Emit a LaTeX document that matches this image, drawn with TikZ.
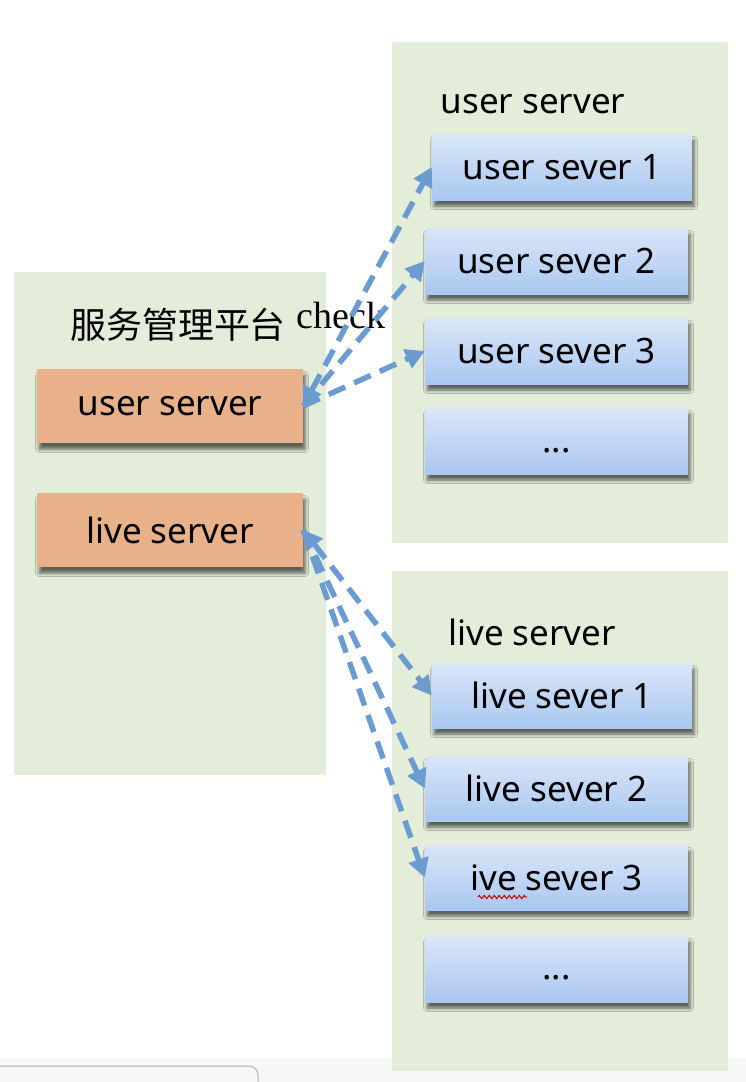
\documentclass[tikz,border=0pt]{standalone}
\usepackage{fontspec}
\setmainfont{Noto Sans}
\newfontfamily\cjkfont{Noto Sans CJK SC}
\newfontfamily\checkfont{Liberation Serif}
\usetikzlibrary{shadows.blur,arrows.meta,decorations.pathmorphing}
\definecolor{panelgreen}{HTML}{E3EDDA}
\definecolor{orangebox}{HTML}{E9B189}
\definecolor{bluetop}{HTML}{DAE6F8}
\definecolor{bluebot}{HTML}{A9C7F1}
\definecolor{connblue}{HTML}{6A9BD1}
\tikzset{
  panel/.style={fill=panelgreen, draw=none},
  txt/.style={font=\fontsize{35}{40}\selectfont, text=black},
  orangenode/.style={txt, fill=orangebox, draw=none, minimum width=266, minimum height=74,
    blur shadow={shadow xshift=2pt, shadow yshift=-6pt, shadow blur radius=3.5pt, shadow opacity=60}},
  bluenode/.style={txt, top color=bluetop, bottom color=bluebot, draw=none, minimum height=66,
    blur shadow={shadow xshift=2pt, shadow yshift=-6pt, shadow blur radius=3.5pt, shadow opacity=60}},
  conn/.style={draw=connblue, line width=5.5pt, dash pattern=on 18pt off 10pt,
    arrows={-Triangle[length=19pt,width=20pt]}},
  bidir/.style={arrows={Triangle[length=19pt,width=20pt]-Triangle[length=19pt,width=20pt]}},
}
\begin{document}
\begin{tikzpicture}[x=1pt,y=-1pt]
\useasboundingbox (0,0) rectangle (746,1082);
\fill[white] (0,0) rectangle (746,1082);
% bottom strip (scroll bar)
\fill[black!3] (0,1058) rectangle (746,1082);
\draw[black!30, line width=1pt, rounded corners=9pt] (-12,1066) rectangle (258,1096);
% panels
\fill[panelgreen] (14,272) rectangle (326,775);
\fill[panelgreen] (392,42) rectangle (728,543);
\fill[panelgreen] (392,571) rectangle (728,1071);
% titles
\node[font=\cjkfont\fontsize{36}{40}\selectfont, inner sep=0] (title) at (178,325) {服务管理平台};
\node[font=\checkfont\fontsize{38}{40}\selectfont, inner sep=0, anchor=base] (check) at (341,328) {check};
\node[txt, inner sep=0] (usertitle) at (533,104) {user server};
\node[txt, inner sep=0] (livetitle) at (532,632) {live server};
% left boxes
\node[orangenode] (us) at (170,406) {user server};
\node[orangenode] (ls) at (170,530) {live server};
% right top boxes
\node[bluenode, minimum width=260] (us1) at (562,167) {user sever 1};
\node[bluenode, minimum width=263] (us2) at (556.5,261) {user sever 2};
\node[bluenode, minimum width=263] (us3) at (556.5,351) {user sever 3};
\node[bluenode, minimum width=263] (us4) at (556.5,441) {\raisebox{-11pt}[0pt][0pt]{...}};
% right bottom boxes
\node[bluenode, minimum width=260, minimum height=65] (ls1) at (562,695.5) {live sever 1};
\node[bluenode, minimum width=263, minimum height=65] (ls2) at (556.5,788.5) {live sever 2};
\node[bluenode, minimum width=263, minimum height=65] (ls3) at (556.5,877.5) {ive sever 3};
\node[bluenode, minimum width=263] (ls4) at (556.5,969) {\raisebox{-10pt}[0pt][0pt]{...}};
% spelling squiggle
\draw[red!80!black, line width=1pt, decorate, decoration={zigzag, amplitude=1.6pt, segment length=5pt}] (478,897) -- (527,897);
% connectors
\draw[conn, bidir] (us.east) -- (us1.west);
\draw[conn] (us.east) -- (us2.west);
\draw[conn] (us.east) -- (us3.west);
\draw[conn, bidir] (ls.east) -- (ls1.west);
\draw[conn] (ls.east) -- (ls2.west);
\draw[conn] (ls.east) -- (ls3.west);
\end{tikzpicture}
\end{document}
